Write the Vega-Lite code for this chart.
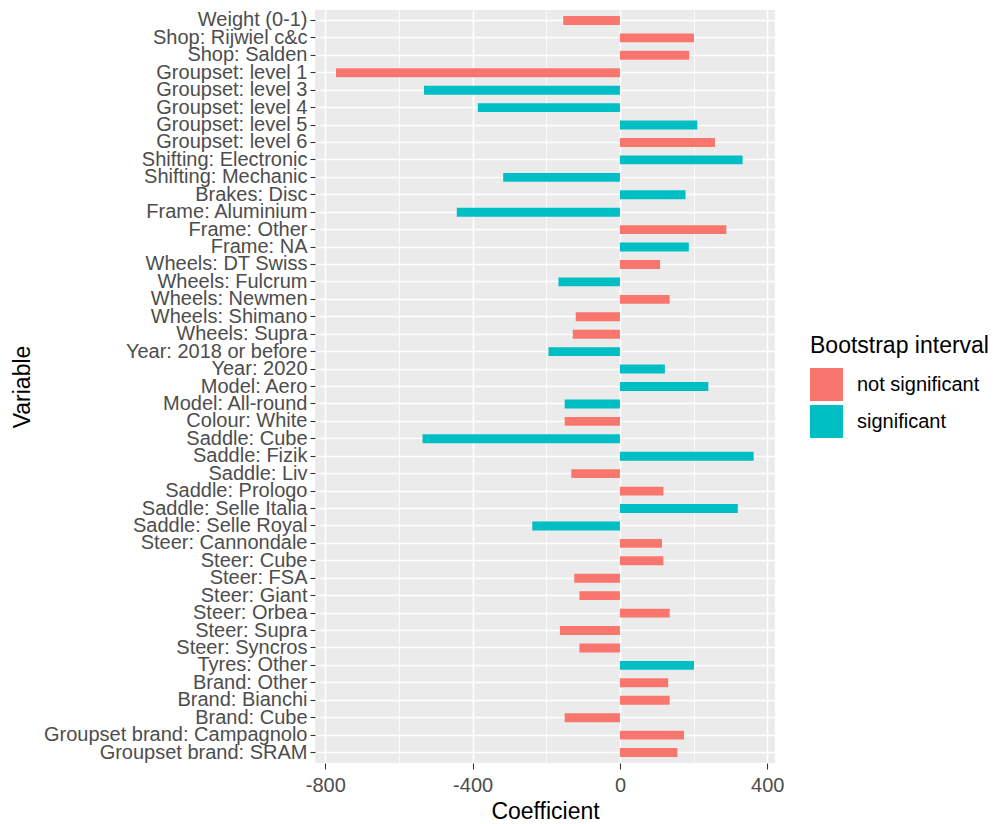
{
  "$schema": "https://vega.github.io/schema/vega-lite/v6.json",
  "autosize": {"type": "none"},
  "padding": {"left": 315, "top": 10, "right": 220, "bottom": 61},
  "width": 460,
  "height": 753,
  "background": "white",
  "view": {"fill": "#EBEBEB", "stroke": null},
  "config": {
    "font": "Liberation Sans",
    "axis": {"domain": false, "gridColor": "white", "tickColor": "#333333", "tickWidth": 1.1, "labelColor": "#4D4D4D", "labelFont": "Liberation Sans", "titleFont": "Liberation Sans", "titleColor": "black", "titleFontWeight": "normal"},
    "legend": {"titleFont": "Liberation Sans", "labelFont": "Liberation Sans", "titleFontWeight": "normal"}
  },
  "data": {
    "values": [
      {"variable": "Weight (0-1)", "coef": -154, "sig": "not significant"},
      {"variable": "Shop: Rijwiel c&c", "coef": 201, "sig": "not significant"},
      {"variable": "Shop: Salden", "coef": 188, "sig": "not significant"},
      {"variable": "Groupset: level 1", "coef": -771, "sig": "not significant"},
      {"variable": "Groupset: level 3", "coef": -532, "sig": "significant"},
      {"variable": "Groupset: level 4", "coef": -386, "sig": "significant"},
      {"variable": "Groupset: level 5", "coef": 210, "sig": "significant"},
      {"variable": "Groupset: level 6", "coef": 258, "sig": "not significant"},
      {"variable": "Shifting: Electronic", "coef": 333, "sig": "significant"},
      {"variable": "Shifting: Mechanic", "coef": -317, "sig": "significant"},
      {"variable": "Brakes: Disc", "coef": 178, "sig": "significant"},
      {"variable": "Frame: Aluminium", "coef": -443, "sig": "significant"},
      {"variable": "Frame: Other", "coef": 289, "sig": "not significant"},
      {"variable": "Frame: NA", "coef": 187, "sig": "significant"},
      {"variable": "Wheels: DT Swiss", "coef": 109, "sig": "not significant"},
      {"variable": "Wheels: Fulcrum", "coef": -167, "sig": "significant"},
      {"variable": "Wheels: Newmen", "coef": 135, "sig": "not significant"},
      {"variable": "Wheels: Shimano", "coef": -120, "sig": "not significant"},
      {"variable": "Wheels: Supra", "coef": -128, "sig": "not significant"},
      {"variable": "Year: 2018 or before", "coef": -194, "sig": "significant"},
      {"variable": "Year: 2020", "coef": 122, "sig": "significant"},
      {"variable": "Model: Aero", "coef": 240, "sig": "significant"},
      {"variable": "Model: All-round", "coef": -150, "sig": "significant"},
      {"variable": "Colour: White", "coef": -150, "sig": "not significant"},
      {"variable": "Saddle: Cube", "coef": -536, "sig": "significant"},
      {"variable": "Saddle: Fizik", "coef": 363, "sig": "significant"},
      {"variable": "Saddle: Liv", "coef": -132, "sig": "not significant"},
      {"variable": "Saddle: Prologo", "coef": 118, "sig": "not significant"},
      {"variable": "Saddle: Selle Italia", "coef": 320, "sig": "significant"},
      {"variable": "Saddle: Selle Royal", "coef": -238, "sig": "significant"},
      {"variable": "Steer: Cannondale", "coef": 114, "sig": "not significant"},
      {"variable": "Steer: Cube", "coef": 118, "sig": "not significant"},
      {"variable": "Steer: FSA", "coef": -124, "sig": "not significant"},
      {"variable": "Steer: Giant", "coef": -110, "sig": "not significant"},
      {"variable": "Steer: Orbea", "coef": 135, "sig": "not significant"},
      {"variable": "Steer: Supra", "coef": -163, "sig": "not significant"},
      {"variable": "Steer: Syncros", "coef": -110, "sig": "not significant"},
      {"variable": "Tyres: Other", "coef": 201, "sig": "significant"},
      {"variable": "Brand: Other", "coef": 131, "sig": "not significant"},
      {"variable": "Brand: Bianchi", "coef": 135, "sig": "not significant"},
      {"variable": "Brand: Cube", "coef": -150, "sig": "not significant"},
      {"variable": "Groupset brand: Campagnolo", "coef": 174, "sig": "not significant"},
      {"variable": "Groupset brand: SRAM", "coef": 156, "sig": "not significant"}
    ]
  },
  "mark": {"type": "bar", "strokeWidth": 0},
  "encoding": {
    "y": {
      "field": "variable",
      "type": "nominal",
      "sort": null,
      "scale": {"paddingInner": 0.49, "paddingOuter": 0.345},
      "axis": {
        "title": "Variable",
        "titleFontSize": 23,
        "titlePadding": 81,
        "labelFontSize": 20,
        "labelLimit": 320,
        "labelOverlap": false,
        "labelPadding": 3,
        "tickSize": 5,
        "grid": true,
        "gridWidth": 1.5
      }
    },
    "x": {
      "field": "coef",
      "type": "quantitative",
      "scale": {"domain": [-828, 421], "nice": false, "zero": false},
      "axis": {
        "title": "Coefficient",
        "titleFontSize": 23,
        "titlePadding": 5,
        "labelFontSize": 20,
        "labelPadding": 6,
        "tickSize": 6,
        "values": [-800, -600, -400, -200, 0, 200, 400],
        "labelExpr": "datum.value % 400 === 0 ? toString(datum.value) : ''",
        "tickOpacity": {"condition": {"test": "datum.value % 400 !== 0", "value": 0}, "value": 1},
        "gridWidth": {"condition": {"test": "datum.value % 400 === 0", "value": 1.5}, "value": 0.75},
        "grid": true
      }
    },
    "color": {
      "field": "sig",
      "type": "nominal",
      "scale": {"domain": ["not significant", "significant"], "range": ["#F8766D", "#00BFC4"]},
      "legend": {
        "title": "Bootstrap interval",
        "orient": "none",
        "legendX": 495,
        "legendY": 325,
        "titleFontSize": 23,
        "titleColor": "black",
        "titlePadding": 10,
        "labelFontSize": 20,
        "labelColor": "black",
        "labelOffset": 14,
        "symbolType": "square",
        "symbolSize": 1089,
        "symbolStrokeWidth": 0,
        "rowPadding": 4
      }
    }
  }
}
